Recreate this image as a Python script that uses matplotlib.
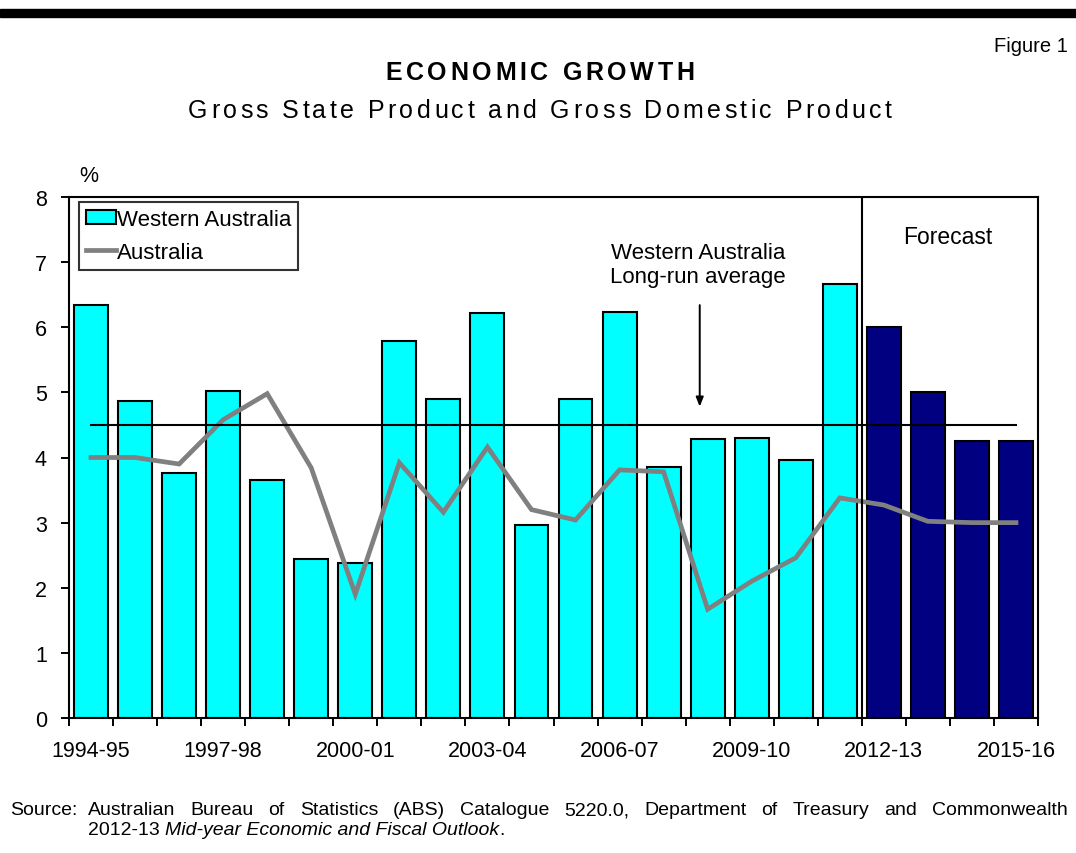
import matplotlib
matplotlib.use("Agg")
import matplotlib.pyplot as plt
from matplotlib.patches import Rectangle
from matplotlib.lines import Line2D

plt.rcParams['font.family'] = ['Liberation Sans', 'DejaVu Sans']

years = ["1994-95", "1995-96", "1996-97", "1997-98", "1998-99", "1999-00",
         "2000-01", "2001-02", "2002-03", "2003-04", "2004-05", "2005-06",
         "2006-07", "2007-08", "2008-09", "2009-10", "2010-11", "2011-12",
         "2012-13", "2013-14", "2014-15", "2015-16"]
wa_growth = [6.34, 4.87, 3.76, 5.02, 3.66, 2.44, 2.38, 5.79, 4.90, 6.22, 2.96,
             4.90, 6.24, 3.86, 4.29, 4.30, 3.96, 6.67, 6.00, 5.00, 4.25, 4.25]
aus_growth = [4.00, 4.00, 3.90, 4.58, 4.98, 3.84, 1.90, 3.92, 3.16, 4.16, 3.20,
              3.04, 3.81, 3.78, 1.67, 2.10, 2.46, 3.38, 3.27, 3.02, 3.00, 3.00]
n_actual = 18          # years up to 2011-12 are actuals, the rest forecasts
long_run_avg = 4.5
label_every = 3

W, H = 1076, 854
fig = plt.figure(figsize=(W / 100, H / 100), dpi=100)
renderer = fig.canvas.get_renderer()


def px(x, y):
    """Pixel coordinates (from top-left) to figure fraction."""
    return x / W, 1 - y / H


def text_width(s, **kw):
    t = fig.text(0, 0, s, **kw)
    w = t.get_window_extent(renderer).width
    t.remove()
    return w


def tracked_text(xc, y, s, tracking, **kw):
    """Draw text centred at xc (px) with extra letter spacing (px)."""
    widths = [text_width(c, **kw) for c in s]
    total = sum(widths) + tracking * (len(s) - 1)
    x = xc - total / 2
    for c, w in zip(s, widths):
        fig.text(*px(x, y), c, ha='left', va='center', **kw)
        x += w + tracking


def justified_line(x0, x1, y, words, **kw):
    widths = [text_width(w, **kw) for w in words]
    gap = (x1 - x0 - sum(widths)) / (len(words) - 1)
    x = x0
    for w, wd in zip(words, widths):
        fig.text(*px(x, y), w, ha='left', va='center', **kw)
        x += wd + gap


# Header rule
fig.patches.append(Rectangle(px(0, 18), 1, 8 / H, transform=fig.transFigure,
                             color='black', zorder=5))
fig.text(*px(1068, 46), "Figure 1", ha='right', va='center', fontsize=14.5)
tracked_text(540, 73, "ECONOMIC GROWTH", 3.7, fontsize=18, fontweight='bold')
tracked_text(540, 111, "Gross State Product and Gross Domestic Product", 3.4,
             fontsize=18)

# Main axes
ax = fig.add_axes([69 / W, (H - 719) / H, (1038 - 69) / W, (719 - 198) / H])
x = list(range(len(years)))
colors = ['#00FFFF'] * n_actual + ['#000080'] * (len(years) - n_actual)
ax.bar(x, wa_growth, width=0.77, color=colors, edgecolor='black',
       linewidth=1.5, zorder=2)
ax.plot(x, aus_growth, color='#808080', linewidth=3.4, zorder=3,
        solid_joinstyle='miter')
ax.plot([x[0], x[-1]], [long_run_avg, long_run_avg], color='black',
        linewidth=1.5, zorder=4)
ax.axvline(n_actual - 0.5, color='black', linewidth=1.5, zorder=4)

ax.set_xlim(-0.5, len(years) - 0.5)
ax.set_ylim(0, 8)
ax.set_yticks(range(0, 9))
ax.tick_params(axis='y', direction='out', length=5.5, width=1.4, pad=10.5,
               labelsize=15.5)
ax.set_xticks([i - 0.5 for i in range(len(years) + 1)])
ax.set_xticklabels([])
ax.tick_params(axis='x', which='major', direction='out', length=5.5, width=1.4)
ax.set_xticks(x[::label_every], minor=True)
ax.set_xticklabels(years[::label_every], minor=True)
ax.tick_params(axis='x', which='minor', length=0, pad=15.5, labelsize=15.5)
for s in ax.spines.values():
    s.set_linewidth(1.5)

# Annotations
ax.annotate("", xy=(13.82, 4.78), xytext=(13.82, 6.34),
            arrowprops=dict(arrowstyle='-|>,head_length=0.55,head_width=0.22',
                            color='black', lw=1.4, shrinkA=0, shrinkB=0))
ax.text(13.78, 6.96, "Western Australia\nLong-run average", ha='center',
        va='center', fontsize=16, linespacing=1.2)
ax.text(19.45, 7.39, "Forecast", ha='center', va='center', fontsize=16.5)
fig.text(*px(89, 176), "%", ha='center', va='center', fontsize=15.5)

handles = [Rectangle((0, 0), 1, 1, facecolor='#00FFFF', edgecolor='black',
                     linewidth=1.5),
           Line2D([], [], color='#808080', linewidth=3.4)]
leg = ax.legend(handles, ["Western Australia", "Australia"],
                loc='upper left', bbox_to_anchor=(10 / (1038 - 69), 1 - 5 / 521),
                fontsize=16, frameon=True, fancybox=False, edgecolor='black',
                handlelength=1.35, handleheight=0.6, handletextpad=0.08,
                borderpad=0.3, labelspacing=0.55, borderaxespad=0)
leg.get_frame().set_linewidth(1.5)

# Source note
src_kw = dict(fontsize=14)
fig.text(*px(10, 811), "Source:", ha='left', va='center', **src_kw)
justified_line(88, 1068, 811,
               "Australian Bureau of Statistics (ABS) Catalogue 5220.0, "
               "Department of Treasury and Commonwealth".split(), **src_kw)
t1 = fig.text(*px(88, 831), "2012-13 ", ha='left', va='center', **src_kw)
w1 = t1.get_window_extent(renderer).width
t2 = fig.text(*px(88 + w1, 831), "Mid-year Economic and Fiscal Outlook", ha='left',
              va='center', style='italic', **src_kw)
w2 = t2.get_window_extent(renderer).width
fig.text(*px(88 + w1 + w2, 831), ".", ha='left', va='center', **src_kw)

fig.savefig("out.png", dpi=100)
